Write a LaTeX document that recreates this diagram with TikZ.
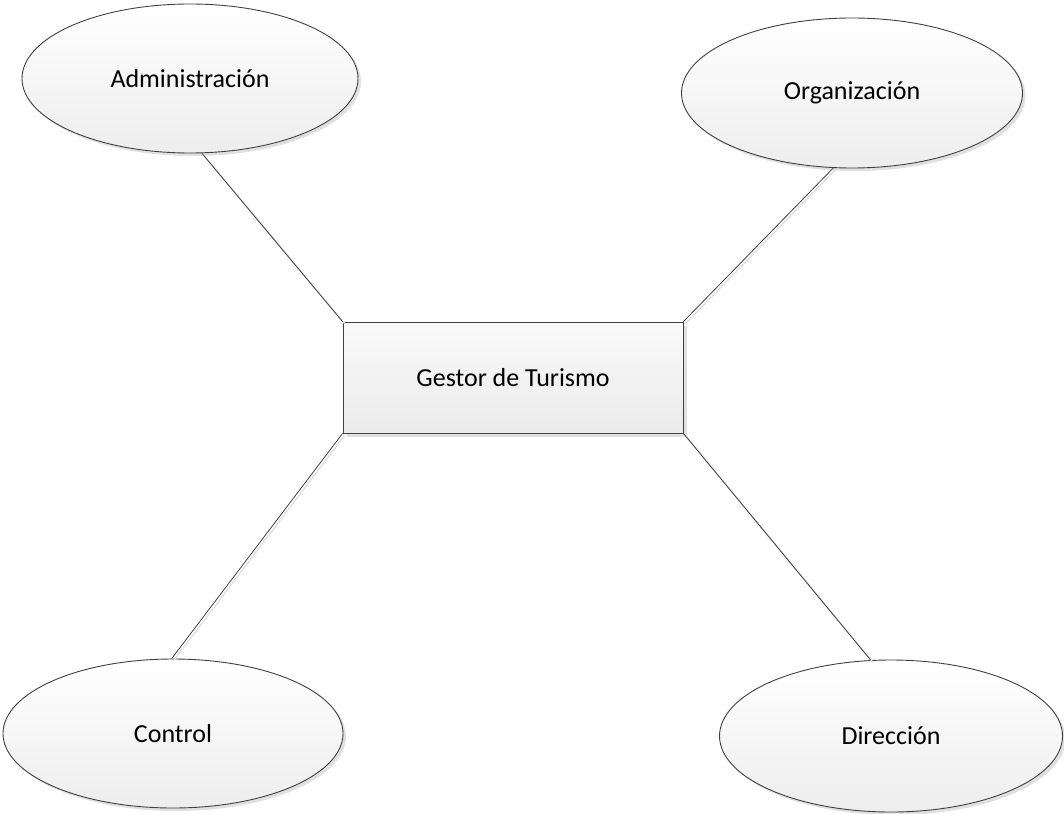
\documentclass[tikz,border=0pt]{standalone}
\usepackage{fontspec}
\setmainfont{Carlito}
\usetikzlibrary{shapes.geometric,shadows}
\begin{document}
\begin{tikzpicture}[x=1pt,y=-1pt,
  every node/.style={font=\fontsize{26}{30}\selectfont, text=black},
  ent/.style={ellipse, draw=black!75, line width=0.9pt, inner sep=0pt,
    top color=white, bottom color=black!7,
    drop shadow={shadow xshift=3pt, shadow yshift=-3pt, fill=black!12, opacity=1}},
  rel/.style={rectangle, draw=black!75, line width=0.9pt, inner sep=0pt,
    top color=white!98!black, bottom color=black!8,
    drop shadow={shadow xshift=4pt, shadow yshift=-4pt, fill=black!12, opacity=1}},
  conn/.style={draw=black!75, line width=0.8pt,
    preaction={draw=black!12, line width=1.4pt, transform canvas={shift={(2pt,-2pt)}}}}]
\useasboundingbox (0,0) rectangle (1064,813);
\node[rel, minimum width=340pt, minimum height=111pt] (g) at (513,377.5) {Gestor de Turismo};
\node[ent, minimum width=336pt, minimum height=149pt] (a) at (190,78.5) {Administración};
\node[ent, minimum width=341pt, minimum height=150pt] (o) at (852,93) {Organización};
\node[ent, minimum width=340pt, minimum height=149pt] (c) at (173,733.5) {Control};
\node[ent, minimum width=343pt, minimum height=152pt] (d) at (891,736) {Dirección};
\draw[conn] (g.north west) -- (a.-81);
\draw[conn] (g.north east) -- (o.-104);
\draw[conn] (g.south west) -- (c.91);
\draw[conn] (g.south east) -- (d.105);
\end{tikzpicture}
\end{document}
